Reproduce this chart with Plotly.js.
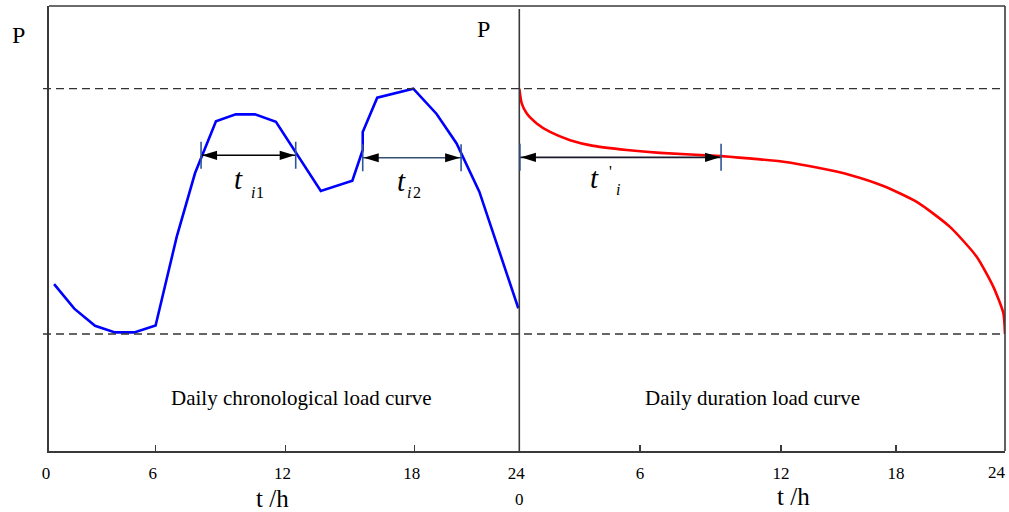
<!DOCTYPE html>
<html>
<head>
<meta charset="utf-8">
<script src="https://cdn.plot.ly/plotly-3.0.1.min.js"></script>
<style>
  html, body { margin: 0; padding: 0; background: #fff; }
  #chart { width: 1009px; height: 512px; }
</style>
</head>
<body>
<div id="chart"></div>
<script>
// ---------- data ----------
// Daily chronological load curve (left panel), hours vs load
const hoursChron = [0.26, 1.29, 2.35, 3.37, 4.35, 5.44, 6.52, 7.45, 8.52, 9.53, 10.51, 11.58, 13.87, 15.48, 16.01, 16.01, 16.75, 18.59, 19.78, 20.80, 21.96, 23.95];
const loadChron  = [52.2, 46.2, 42.0, 40.4, 40.4, 42.1, 63.8, 79.3, 92.0, 93.7, 93.7, 91.9, 75.0, 77.5, 85.0, 89.4, 97.8, 100.0, 93.8, 86.6, 74.8, 46.3];

// Daily duration load curve (right panel), duration hours vs load
const hoursDur = [0, 0.12, 0.37, 0.86, 1.52, 2.51, 3.66, 5.31, 6.95, 9.97, 11.9, 13.05, 14.7, 16.34, 17.99, 19.64, 21.28, 22.6, 23.42, 23.92, 24];
const loadDur  = [100, 96.4, 93.9, 91.5, 89.4, 87.4, 86.0, 85.0, 84.3, 83.5, 82.7, 82.1, 80.7, 78.9, 76.2, 72.3, 66.2, 58.9, 51.6, 45.1, 40];

// reference levels: max and min load
const loadMax = 100;
const loadMin = 40;

// duration intervals: [start, end, level]
const intervalI1 = [7.76, 12.59, 83.7];
const intervalI2 = [16.01, 21.03, 83.1];
const intervalDur = [0.03, 9.97, 83.2];

// tick labels
const tickLabelsLeft  = ["0", "6", "12", "18", "24"];
const tickLabelsRight = ["", "6", "12", "18", ""];
const tickPosLeft  = [0, 5.45, 12.07, 18.67, 24];
const tickPosRight = [0, 5.96, 12.93, 18.61, 24];

// ---------- layout helpers ----------
const W = 1009, H = 512;
const M = {l: 49, r: 4, t: 6, b: 61};
const PW = W - M.l - M.r, PH = H - M.t - M.b;
const px = x => (x - M.l) / PW;     // pixel -> paper x
const py = y => (H - M.b - y) / PH; // pixel -> paper y
const split = px(519.3);
const FONT = 'Liberation Serif, Times New Roman, DejaVu Serif, serif';
const AX = '#3a3a3a';

const traces = [
  {x: hoursChron, y: loadChron, xaxis: 'x', yaxis: 'y', mode: 'lines',
   line: {color: '#0000FF', width: 2.6}, hoverinfo: 'skip'},
  {x: hoursDur, y: loadDur, xaxis: 'x2', yaxis: 'y', mode: 'lines',
   line: {color: '#FF0000', width: 2.6, shape: 'spline', smoothing: 0.6}, hoverinfo: 'skip'}
];

const shapes = [];
[loadMax, loadMin].forEach(v => shapes.push({
  type: 'line', xref: 'paper', yref: 'y', x0: px(43), x1: 1, y0: v, y1: v,
  line: {color: '#333', width: 1.3, dash: '8px,5px'}
}));
shapes.push({type: 'line', xref: 'paper', yref: 'paper', x0: 0, x1: 1, y0: 1, y1: 1, line: {color: AX, width: 1.6}});
shapes.push({type: 'line', xref: 'paper', yref: 'paper', x0: 1, x1: 1, y0: 0, y1: 1, line: {color: AX, width: 1.6}});
shapes.push({type: 'line', xref: 'paper', yref: 'paper', x0: split, x1: split, y0: 0, y1: py(9), line: {color: AX, width: 1.6}});

function intervalMarks(iv, xref, shaftColor) {
  const [a, b, lv] = iv;
  shapes.push({type: 'line', xref: xref, yref: 'y', x0: a, x1: b, y0: lv, y1: lv,
    line: {color: shaftColor, width: 1.6}});
  [a, b].forEach(v => shapes.push({type: 'line', xref: xref, yref: 'y',
    x0: v, x1: v, ysizemode: 'pixel', yanchor: lv, y0: -13.5, y1: 13.5,
    line: {color: '#2F5597', width: 1.6}}));
  shapes.push({type: 'path', xref: xref, yref: 'y', xsizemode: 'pixel', ysizemode: 'pixel',
    xanchor: a, yanchor: lv, path: 'M1,0 L16,4.6 L16,-4.6 Z',
    fillcolor: '#000', line: {width: 0}});
  shapes.push({type: 'path', xref: xref, yref: 'y', xsizemode: 'pixel', ysizemode: 'pixel',
    xanchor: b, yanchor: lv, path: 'M-1,0 L-16,4.6 L-16,-4.6 Z',
    fillcolor: '#000', line: {width: 0}});
}
intervalMarks(intervalI1, 'x', '#000');
intervalMarks(intervalI2, 'x', '#35506e');
intervalMarks(intervalDur, 'x2', '#1a1a2a');

function txt(text, x, y, size, extra) {
  return Object.assign({text: text, xref: 'paper', yref: 'paper', x: px(x), y: py(y),
    showarrow: false, xanchor: 'center', yanchor: 'middle',
    font: {family: FONT, size: size, color: '#000'}}, extra || {});
}
const annotations = [
  txt('P', 18, 35, 24),
  txt('P', 483, 29, 24),
  txt('t /h', 272, 498, 25),
  txt('t /h', 793, 497, 25),
  txt('0', 519.5, 499, 17),
  txt('24', 997, 472, 17),
  txt('Daily chronological load curve', 301, 398, 21),
  txt('Daily duration load curve', 752.5, 398, 21),
  // t_i1
  txt('<i>t</i>', 238.5, 179, 29),
  txt('<i>i</i>', 252.5, 192, 16),
  txt('1', 260, 192, 16),
  // t_i2
  txt('<i>t</i>', 401.5, 181, 29),
  txt('<i>i</i>', 409, 192, 16),
  txt('2', 416.5, 192, 16),
  // t'_i
  txt('<i>t</i>', 594, 178, 29),
  txt("'", 610.5, 171, 16),
  txt('<i>i</i>', 617.5, 189, 16)
];

const xBase = {
  range: [0, 24], showline: true, linecolor: AX, linewidth: 1.6,
  ticks: 'inside', ticklen: 6, tickwidth: 1.2, tickcolor: AX,
  tickmode: 'array', showgrid: false, zeroline: false, fixedrange: true,
  tickfont: {family: FONT, size: 17, color: '#000'}, ticklabelstandoff: 6,
  ticklabeloverflow: 'allow'
};

const layout = {
  width: W, height: H, margin: M,
  paper_bgcolor: '#fff', plot_bgcolor: '#fff', showlegend: false,
  xaxis: Object.assign({}, xBase, {domain: [0, split], anchor: 'y',
    tickvals: tickPosLeft, ticktext: tickLabelsLeft, ticklabelshift: -3}),
  xaxis2: Object.assign({}, xBase, {domain: [split, 1], anchor: 'y',
    tickvals: tickPosRight, ticktext: tickLabelsRight}),
  yaxis: {range: [11.4, 120.2], showline: true, linecolor: AX, linewidth: 1.6,
    showticklabels: false, ticks: '', showgrid: false, zeroline: false, fixedrange: true},
  shapes: shapes,
  annotations: annotations
};

Plotly.newPlot('chart', traces, layout, {displayModeBar: false, staticPlot: true});
</script>
</body>
</html>
